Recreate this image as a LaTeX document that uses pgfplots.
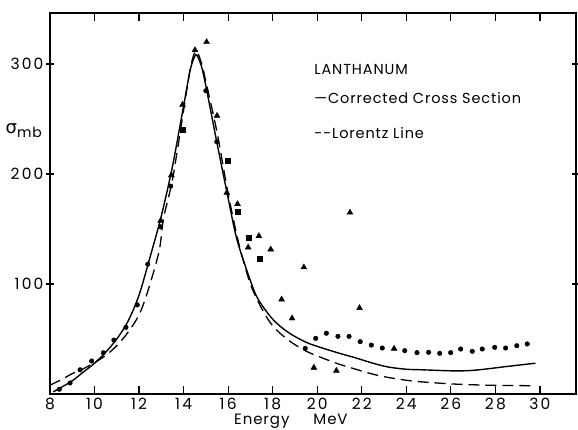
\documentclass[border=0pt]{standalone}
\usepackage{fontspec}
\setmainfont{Poppins}[LetterSpace=6]
\newfontfamily\tickfont{Poppins}[LetterSpace=14]
\newfontfamily\dvs{DejaVu Sans}
\usepackage{pgfplots}
\pgfplotsset{compat=1.18}
\begin{document}
\begin{tikzpicture}
\useasboundingbox (0,0) rectangle (578pt,429pt);
\begin{axis}[
  at={(50pt,35pt)}, anchor=south west,
  width=526pt, height=381pt, scale only axis,
  xmin=8, xmax=31.62, ymin=0, ymax=346.4,
  xtick={8,10,...,30}, ytick={100,200,300},
  tick align=inside, ytick align=center,
  major tick length=8pt,
  axis line style={line width=1.5pt},
  every tick/.style={line width=1.2pt, black},
  /pgf/number format/assume math mode=true,
  tick label style={font=\tickfont\fontsize{15.5}{15.5}\selectfont},
  xticklabel style={yshift=-1pt},
  yticklabel style={xshift=1pt},
  clip=false,
]
% Corrected cross section (solid)
\addplot[black, line width=1.4pt, smooth, tension=0.5] coordinates {
(8.15,2) (8.5,6) (9,12) (9.5,20) (10,28) (10.5,38) (11,50) (11.5,66) (12,90)
(12.5,125) (13,162) (13.5,207) (14,262) (14.3,295) (14.5,307) (14.6,308)
(14.8,298) (15,280) (15.5,228) (16,178) (16.4,140) (17,103) (17.35,86)
(18,68) (18.7,56) (19.5,47) (20.2,42) (21,37) (21.7,33) (22.5,28) (23.2,24.5)
(24,22.5) (24.7,22) (26.2,21) (27,21.5) (27.7,23) (28.5,25) (29.8,28)
};
% Lorentz line (dashed)
\addplot[black, line width=1.3pt, dash pattern=on 11pt off 6pt, smooth, tension=0.5] coordinates {
(8.0,8) (8.5,13) (9,18.5) (9.5,23) (10,28.5) (10.5,35) (11,44) (11.5,56) (12,72)
(12.4,94) (12.9,130) (13.1,160) (13.5,195) (14,258) (14.3,296) (14.55,312)
(14.8,301) (15,284) (15.5,238) (16,182) (16.5,135) (17,100) (17.5,78)
(18,62) (18.7,49) (19.5,39) (20.2,33) (21,27) (21.7,22.7) (22.5,18) (23.2,15)
(24,12.5) (24.7,11) (26.2,9) (27.7,8) (29.8,7.5)
};
% dots
\addplot[only marks, mark=*, mark size=2.3pt, black] coordinates {
(8.42,4.3) (8.9,10) (9.35,22) (9.87,30) (10.4,37.5) (10.87,49) (11.41,60.6)
(11.92,81) (12.39,118) (12.97,152) (13.42,189) (15.0,275.7) (15.49,229.4)
(19.46,41.5) (19.93,50.6) (20.41,55.2) (20.93,52.4) (21.43,52.4) (21.93,47.6)
(22.43,44.5) (22.92,41.8) (23.93,39.4) (24.48,37.6) (25.0,37.9) (25.5,37)
(25.99,37.6) (26.44,40.9) (26.96,38.8) (27.41,40.9) (27.97,42.4) (28.46,41.8)
(28.96,43.9) (29.43,45.5)
};
% squares
\addplot[only marks, mark=square*, mark size=2.6pt, black] coordinates {
(13.96,240.6) (15.98,212) (16.44,165.5) (16.94,142) (17.4,123.3)
};
% triangles
\addplot[only marks, mark=triangle*, mark size=3.4pt, black] coordinates {
(13.45,199) (13.95,263) (12.97,157.6) (14.51,312.7) (15.03,320) (15.5,253)
(15.94,183) (16.42,172.7) (17.38,143.6) (16.9,133.3) (17.91,131.5) (18.4,86)
(18.87,68.8) (19.4,115.2) (21.47,165) (21.9,78.2) (19.85,24) (20.86,21.2)
(23.45,41.2)
};
\node[anchor=west, font=\fontsize{14.5}{14.5}\selectfont] at (rel axis cs:0.496,0.853) {LANTHANUM};
\node[anchor=west, font=\fontsize{14.5}{14.5}\selectfont] at (rel axis cs:0.496,0.777) {\textemdash Corrected Cross Section};
\node[anchor=west, font=\fontsize{14.5}{14.5}\selectfont] at (rel axis cs:0.496,0.686) {{-}{-}Lorentz Line};
\node[font=\fontsize{14}{14}\selectfont] at (rel axis cs:-0.05,0.69) {{\dvs\fontsize{18}{18}\selectfont σ}\raisebox{-4pt}{mb}};
\node[font=\fontsize{15}{15}\selectfont] at (rel axis cs:0.458,-0.072) {Energy\hspace{24pt}MeV};
\end{axis}
\end{tikzpicture}
\end{document}
